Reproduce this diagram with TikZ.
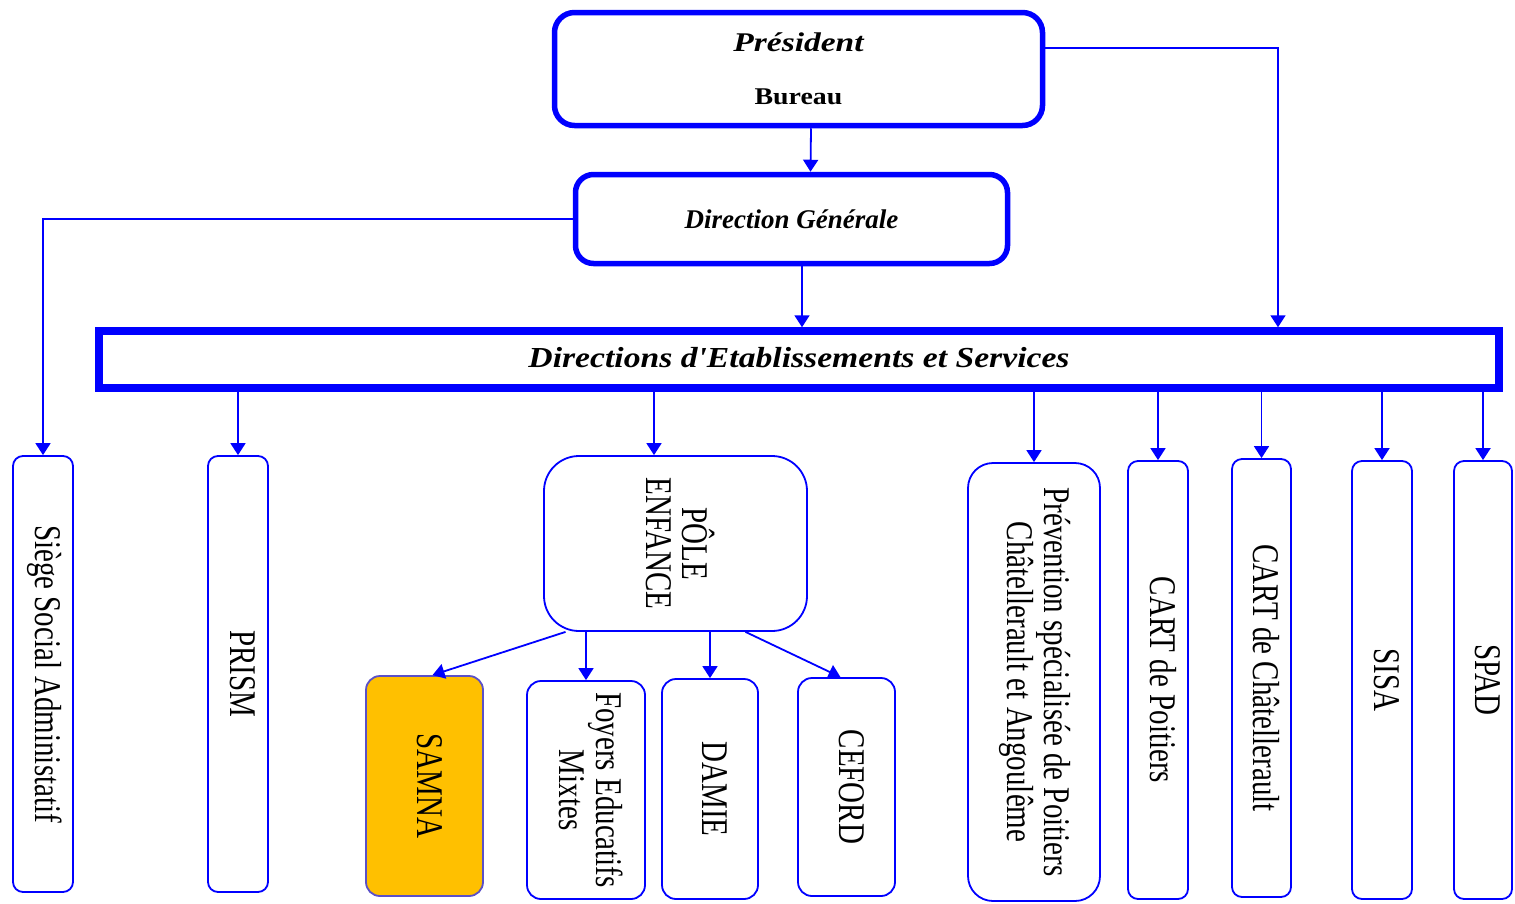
\documentclass[tikz,border=0pt]{standalone}
\usepackage{fontspec}
\setmainfont{Liberation Serif}
\usepackage{graphicx}
\usetikzlibrary{arrows.meta}

\definecolor{orgblue}{RGB}{0,0,255}
\definecolor{samnafill}{RGB}{255,192,0}
\definecolor{samnaline}{RGB}{90,80,200}

\newcommand{\wide}[2][1.2]{\scalebox{#1}[1]{#2}}
\newcommand{\vtext}[1]{\rotatebox{-90}{\scalebox{1}[1.3]{\begin{tabular}{@{}c@{}}#1\end{tabular}}}}

\tikzset{
  topbox/.style={draw=orgblue, line width=5.5pt, rounded corners=20pt, inner sep=0pt},
  unitbox/.style={draw=orgblue, line width=1.8pt, rounded corners=10pt, inner sep=0pt,
    font=\fontsize{29}{28}\selectfont},
  arr/.style={draw=orgblue, line width=1.8pt, -{Triangle[width=15pt,length=12pt]}},
}

\begin{document}
\begin{tikzpicture}[x=1pt,y=-1pt]
\useasboundingbox (0,0) rectangle (1515,903);

\node[topbox, minimum width=488pt, minimum height=113pt, align=center]
  (pres) at (798.5,69)
  {\fontsize{27}{32}\selectfont\bfseries\itshape\wide[1.24]{Président}\\[36pt]%
   \fontsize{24}{29}\selectfont\bfseries\upshape\wide[1.16]{Bureau}};
\node[topbox, rounded corners=18pt, minimum width=432pt, minimum height=89pt,
  font=\fontsize{27}{32}\selectfont\bfseries\itshape] (dg) at (791.5,219) {Direction Générale};
\node[draw=orgblue, line width=7.5pt, minimum width=1400pt, minimum height=57pt, inner sep=0pt,
  font=\fontsize{29}{34}\selectfont\bfseries\itshape] (des) at (799,359.5)
  {\raisebox{5pt}{\wide[1.16]{Directions d\textquotesingle Etablissements et Services}}};

\node[unitbox, minimum width=60pt, minimum height=436pt] (siege) at (43,674) {\vtext{Siège Social Administatif}};
\node[unitbox, minimum width=60pt, minimum height=436pt] (prism) at (238,674) {\vtext{PRISM}};
\node[unitbox, rounded corners=35pt, minimum width=263pt, minimum height=175pt] (pole) at (675.5,543.5)
  {\vtext{PÔLE\\ENFANCE}};
\node[unitbox, draw=samnaline, fill=samnafill, rounded corners=14pt, minimum width=117pt, minimum height=220pt]
  (samna) at (424.5,786) {\vtext{SAMNA}};
\node[unitbox, rounded corners=14pt, minimum width=118pt, minimum height=218pt] (foyers) at (586,790)
  {\vtext{Foyers Educatifs\\Mixtes}};
\node[unitbox, rounded corners=14pt, minimum width=96pt, minimum height=220pt] (damie) at (710,789) {\vtext{DAMIE}};
\node[unitbox, rounded corners=14pt, minimum width=97pt, minimum height=218pt] (ceford) at (846.5,787) {\vtext{CEFORD}};
\node[unitbox, rounded corners=25pt, minimum width=132pt, minimum height=438pt] (prev) at (1034,682)
  {\vtext{Prévention spécialisée de Poitiers\\Châtellerault et Angoulême}};
\node[unitbox, minimum width=60pt, minimum height=438pt] (cartp) at (1158,680) {\vtext{CART de Poitiers}};
\node[unitbox, minimum width=59pt, minimum height=438pt] (cartc) at (1261.5,678) {\vtext{CART de Châtellerault}};
\node[unitbox, minimum width=60pt, minimum height=438pt] (sisa) at (1382,680) {\vtext{SISA}};
\node[unitbox, minimum width=58pt, minimum height=438pt] (spad) at (1483,680) {\vtext{SPAD}};

\draw[arr] ([xshift=12.5pt]pres.south) -- ([xshift=19pt]dg.north);
\draw[arr] ([xshift=10.5pt]dg.south) -- ([xshift=10.5pt]dg.south |- des.north);
\draw[arr] ([yshift=21pt]pres.east) -| ([xshift=479pt]des.north);
\draw[arr] (dg.west) -| (siege.north);

\foreach \n in {prism,prev,cartp,cartc,sisa,spad}
  \draw[arr] (\n.north |- des.south) -- (\n.north);
\draw[arr] ([xshift=-21.5pt]pole.north |- des.south) -- ([xshift=-21.5pt]pole.north);

\draw[arr] ([xshift=-110pt]pole.south) -- ([xshift=8pt]samna.north);
\draw[arr] (foyers.north |- pole.south) -- (foyers.north);
\draw[arr] (damie.north |- pole.south) -- (damie.north);
\draw[arr] ([xshift=70pt]pole.south) -- ([xshift=-6pt]ceford.north);
\end{tikzpicture}
\end{document}
